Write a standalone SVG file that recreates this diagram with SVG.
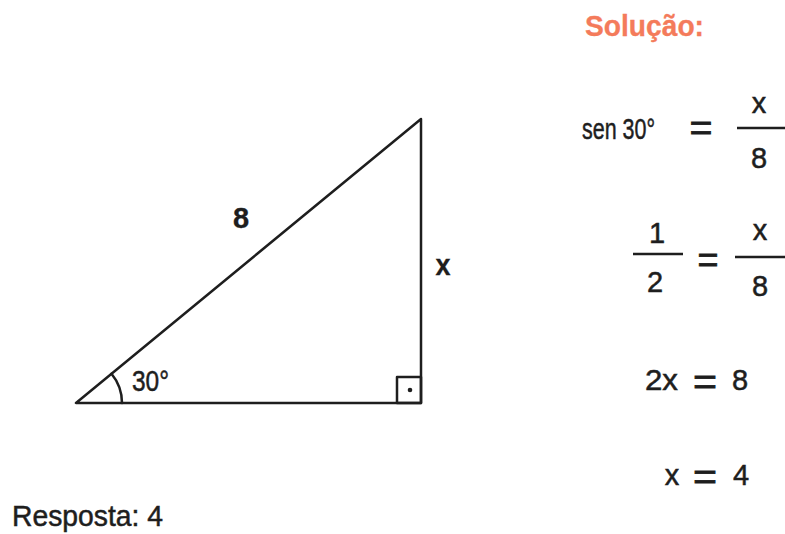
<svg xmlns="http://www.w3.org/2000/svg" width="785" height="534" viewBox="0 0 785 534">
<style>
.t{font-family:"Liberation Sans",Arial,sans-serif;fill:#1e1e1e;stroke:#1e1e1e;stroke-width:0.5;font-size:29px}
.b{font-weight:bold;stroke-width:0.3}
.eq{font-size:36px;stroke-width:0.8}
.ln{stroke:#1e1e1e;stroke-width:2.5;fill:none;stroke-linecap:round;stroke-linejoin:round}
.bar{stroke:#1e1e1e;stroke-width:2.5}
</style>
<rect width="785" height="534" fill="#fff"/>
<g id="triangle">
<polygon class="ln" points="76,403 421,403 421,119"/>
<path class="ln" d="M122,403 A46,46 0 0 0 111.5,373.7" stroke-width="2"/>
<rect x="397" y="377" width="24" height="26" class="ln" stroke-width="2"/>
<circle cx="410" cy="390" r="2.3" fill="#1e1e1e"/>
</g>
<g id="labels">
<text class="t b" x="241" y="228" text-anchor="middle" font-size="31">8</text>
<text class="t b" x="443" y="275" text-anchor="middle" font-size="33" textLength="15" lengthAdjust="spacingAndGlyphs">x</text>
<text class="t" x="132" y="391" font-size="25" stroke-width="0.2" textLength="37" lengthAdjust="spacingAndGlyphs">30°</text>
<text class="t" x="12" y="526" textLength="151" lengthAdjust="spacingAndGlyphs">Resposta: 4</text>
</g>
<g id="solution">
<text class="t b" x="585" y="36" style="fill:#f47b5b;stroke:#f47b5b" font-size="29" textLength="119" lengthAdjust="spacingAndGlyphs">Solução:</text>
<text class="t" x="582" y="139" textLength="73" lengthAdjust="spacingAndGlyphs">sen 30°</text>
<text class="t eq" x="701" y="140" text-anchor="middle" textLength="23" lengthAdjust="spacingAndGlyphs">=</text>
<line class="bar" x1="737" y1="128" x2="785" y2="128"/>
<text class="t" x="759" y="113" text-anchor="middle">x</text>
<text class="t" x="759" y="168" text-anchor="middle">8</text>

<line class="bar" x1="633" y1="254" x2="683" y2="254"/>
<text class="t" x="657" y="243" text-anchor="middle">1</text>
<text class="t" x="655" y="292" text-anchor="middle">2</text>
<text class="t eq" x="708" y="272" text-anchor="middle" textLength="21" lengthAdjust="spacingAndGlyphs">=</text>
<line class="bar" x1="735" y1="257" x2="785" y2="257"/>
<text class="t" x="760" y="240" text-anchor="middle">x</text>
<text class="t" x="760" y="296" text-anchor="middle">8</text>

<text class="t" x="645" y="390" textLength="33" lengthAdjust="spacingAndGlyphs">2x</text>
<text class="t eq" x="705" y="394" text-anchor="middle" textLength="24" lengthAdjust="spacingAndGlyphs">=</text>
<text class="t" x="740" y="390" text-anchor="middle">8</text>

<text class="t" x="672" y="485" text-anchor="middle">x</text>
<text class="t eq" x="705" y="489" text-anchor="middle" textLength="24" lengthAdjust="spacingAndGlyphs">=</text>
<text class="t" x="741" y="485" text-anchor="middle">4</text>
</g>
</svg>
